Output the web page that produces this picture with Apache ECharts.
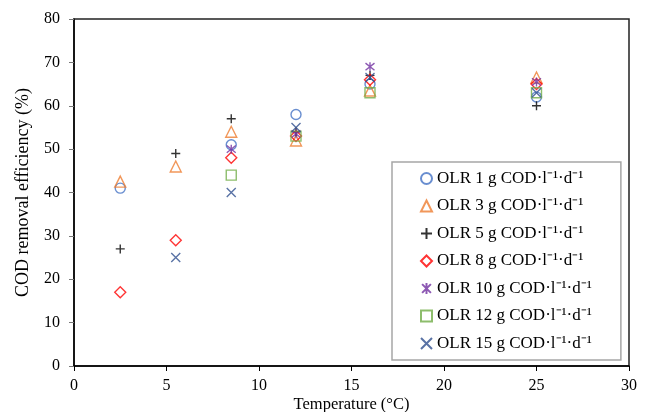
<!DOCTYPE html>
<html>
<head>
<meta charset="utf-8">
<script src="https://cdn.jsdelivr.net/npm/echarts@6/dist/echarts.min.js"></script>
<style>
  html, body { margin: 0; padding: 0; background: #fff; }
  #chart { width: 651px; height: 412px; }
</style>
</head>
<body>
<div id="chart"></div>
<script>
    // temperatures (°C) and COD removal (%) for each OLR
    var olr1 = [[2.5, 41], [8.5, 51], [12, 58], [16, 65], [25, 62]];
    var olr3 = [[2.5, 42.5], [5.5, 46], [8.5, 54], [12, 52], [16, 63.5], [25, 66.5]];
    var olr5 = [[2.5, 27], [5.5, 49], [8.5, 57], [12, 54], [16, 67], [25, 60]];
    var olr8 = [[2.5, 17], [5.5, 29], [8.5, 48], [12, 53], [16, 66], [25, 65]];
    var olr10 = [[8.5, 50], [12, 53.5], [16, 69], [25, 65.5]];
    var olr12 = [[8.5, 44], [12, 53], [16, 63], [25, 63]];
    var olr15 = [[5.5, 25], [8.5, 40], [12, 55], [16, 66.5], [25, 63]];

    var names = [
        'OLR 1 g COD·l⁻¹·d⁻¹',
        'OLR 3 g COD·l⁻¹·d⁻¹',
        'OLR 5 g COD·l⁻¹·d⁻¹',
        'OLR 8 g COD·l⁻¹·d⁻¹',
        'OLR 10 g COD·l⁻¹·d⁻¹',
        'OLR 12 g COD·l⁻¹·d⁻¹',
        'OLR 15 g COD·l⁻¹·d⁻¹'
    ];
    var datasets = [olr1, olr3, olr5, olr8, olr10, olr12, olr15];

    var plusPath = 'path://M5,0 L5,10 M0,5 L10,5';
    var crossPath = 'path://M0,0 L10,10 M10,0 L0,10';
    var starPath = 'path://M1,1 L9,9 M9,1 L1,9 M5,0 L5,10';

    var styles = [
        { symbol: 'circle', size: 10, color: '#4472C4' },
        { symbol: 'triangle', size: 11, color: '#ED7D31' },
        { symbol: plusPath, size: 9, color: '#000000' },
        { symbol: 'diamond', size: 11, color: '#FF0000' },
        { symbol: starPath, size: 9, color: '#7030A0' },
        { symbol: 'rect', size: 10, color: '#70AD47' },
        { symbol: crossPath, size: 9, color: '#2F4F8F' }
    ];

    var series = datasets.map(function (d, i) {
        var s = styles[i];
        return {
            name: names[i],
            type: 'scatter',
            symbol: s.symbol,
            symbolSize: s.size,
            itemStyle: {
                color: 'rgba(0,0,0,0)',
                borderColor: s.color,
                borderWidth: 1.4
            },
            emphasis: { disabled: true },
            data: d
        };
    });

    var chart = echarts.init(document.getElementById('chart'));

    var option = {
        animation: false,
        textStyle: { fontFamily: 'Liberation Serif' },
        grid: {
            left: 74,
            right: 22,
            top: 19,
            bottom: 46,
            show: true,
            borderColor: '#222',
            borderWidth: 1.5,
            containLabel: false,
            outerBoundsMode: 'none'
        },
        legend: {
            orient: 'vertical',
            left: 392,
            top: 162,
            borderColor: '#a6a6a6',
            borderWidth: 1.5,
            padding: [8, 29, 8, 28],
            itemGap: 10.5,
            itemWidth: 11,
            itemHeight: 11,
            textStyle: {
                fontFamily: 'Liberation Serif',
                fontSize: 17,
                color: '#000'
            },
            data: names
        },
        xAxis: {
            type: 'value',
            min: 0,
            max: 30,
            interval: 5,
            name: 'Temperature (°C)',
            nameLocation: 'middle',
            nameGap: 30,
            nameMoveOverlap: false,
            nameTextStyle: { fontSize: 16.5, color: '#000' },
            axisLine: { lineStyle: { color: '#000', width: 1.5 } },
            axisTick: { inside: false, length: 5, lineStyle: { color: '#000' } },
            axisLabel: { fontSize: 16, color: '#000', margin: 12 },
            splitLine: { show: false }
        },
        yAxis: {
            type: 'value',
            min: 0,
            max: 80,
            interval: 10,
            name: 'COD removal efficiency (%)',
            nameLocation: 'middle',
            nameGap: 42,
            nameMoveOverlap: false,
            nameTextStyle: { fontSize: 18, color: '#000' },
            axisLine: { show: true, lineStyle: { color: '#000', width: 1.5 } },
            axisTick: { show: true, inside: false, length: 5, lineStyle: { color: '#777' } },
            axisLabel: { fontSize: 16, color: '#000', margin: 14 },
            splitLine: { show: false }
        },
        series: series
    };

    chart.setOption(option);
</script>
</body>
</html>
